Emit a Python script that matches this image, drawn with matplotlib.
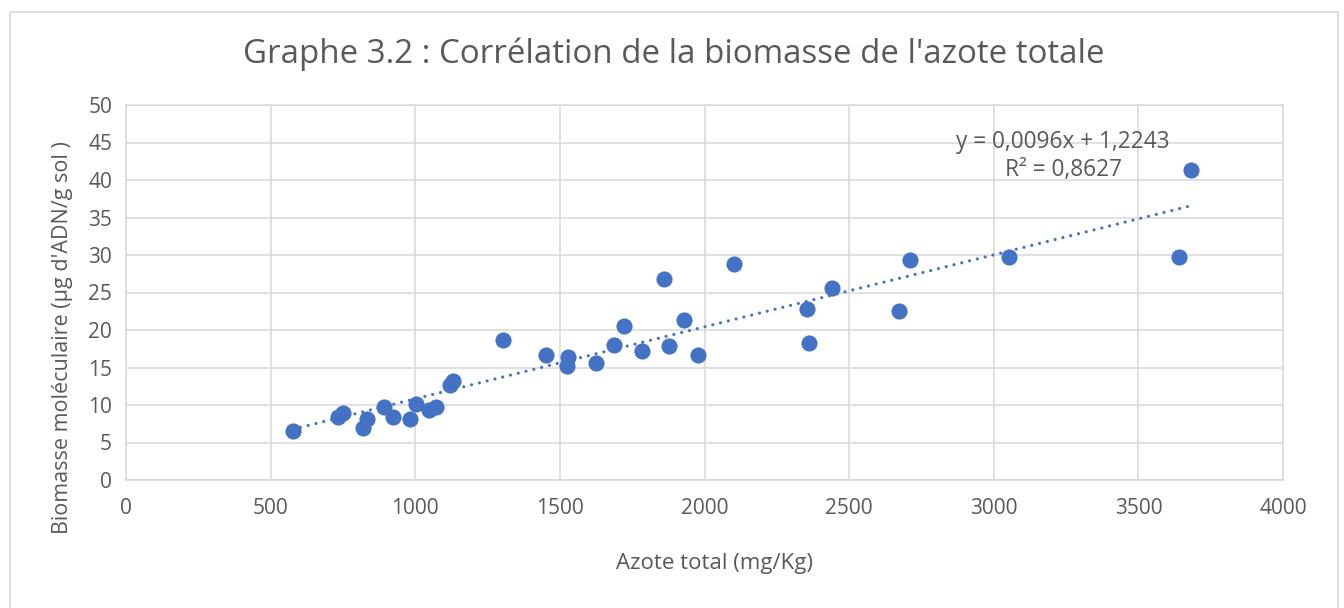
import numpy as np
import matplotlib.pyplot as plt
from matplotlib.patches import Rectangle

# values
azote = [576, 734, 751, 820, 832, 892, 922, 982, 1003, 1049, 1072, 1120, 1129,
         1304, 1451, 1529, 1526, 1624, 1688, 1720, 1785, 1860, 1877, 1930, 1977,
         2103, 2356, 2360, 2442, 2674, 2710, 3052, 3639, 3682]
biomasse = [6.6, 8.4, 9.0, 7.0, 8.1, 9.7, 8.4, 8.2, 10.2, 9.3, 9.8, 12.7, 13.2,
            18.7, 16.7, 16.4, 15.2, 15.6, 18.0, 20.6, 17.2, 26.8, 17.9, 21.3, 16.7,
            28.8, 22.8, 18.3, 25.6, 22.5, 29.4, 29.7, 29.7, 41.3]
slope = 0.0096
intercept = 1.2243
eq_text = "y = 0,0096x + 1,2243\nR² = 0,8627"

grey = "#595959"
grid = "#d9d9d9"
blue = "#4472C4"
plt.rcParams['font.family'] = ['Open Sans', 'DejaVu Sans']

fig = plt.figure(figsize=(13.44, 6.08), dpi=100)
ax = fig.add_axes([126/1344, 1 - 480/608, (1283-126)/1344, (480-105)/608])

# chart border
fig.patches.append(Rectangle((10/1344, -0.05), (1338-10)/1344, 1.05 - 12/608,
                             transform=fig.transFigure, fill=False,
                             edgecolor=grid, linewidth=1.2))

ax.scatter(azote, biomasse, s=135, color=blue, zorder=3, linewidths=0)

xs = np.array([min(azote), max(azote)])
ax.plot(xs, slope * xs + intercept, color=blue, linewidth=2.3,
        linestyle=(0, (0.01, 2.5)), dash_capstyle='round', zorder=2)

ax.set_xlim(0, 4000)
ax.set_ylim(0, 50)
ax.set_xticks(np.arange(0, 4001, 500))
ax.set_yticks(np.arange(0, 51, 5))
ax.grid(True, color=grid, linewidth=1.1)
ax.set_axisbelow(True)
for sp in ax.spines.values():
    sp.set_color(grid)
    sp.set_linewidth(1.1)
ax.tick_params(length=0, labelsize=15, labelcolor=grey, pad=13)
ax.tick_params(axis='y', pad=10)

ax.set_xlabel("Azote total (mg/Kg)", fontsize=16, color=grey)
ax.xaxis.set_label_coords((715-126)/1157, -(553-480)/375)
ax.set_ylabel("Biomasse moléculaire (µg d'ADN/g sol )", fontsize=15.5, color=grey)
ax.yaxis.set_label_coords(-(126-73)/1157, (480-338)/375)

fig.text(674/1344, 1 - 54/608, "Graphe 3.2 : Corrélation de la biomasse de l'azote totale",
         ha='center', va='center', fontsize=23.8, color=grey)

ax.text(3240, 43.2, eq_text, ha='center', va='center', fontsize=16.3,
        color=grey, linespacing=1.2)

fig.savefig("out.png", dpi=100)
